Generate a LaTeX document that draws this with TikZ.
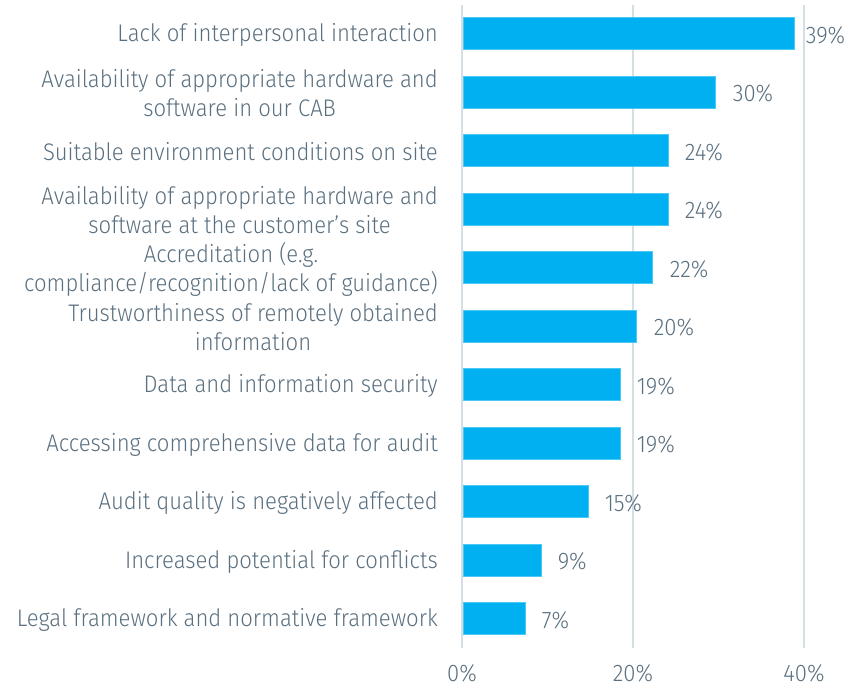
\documentclass[tikz,border=0pt]{standalone}
\usepackage{fontspec}
\setmainfont{Fira Sans}[UprightFont=* Light, FakeStretch=0.92]
\usetikzlibrary{positioning}
\definecolor{barblue}{HTML}{00B0F0}
\definecolor{baredge}{HTML}{4CC8F4}
\definecolor{labgray}{HTML}{5A7080}
\definecolor{gridgray}{HTML}{D5DEE3}

\begin{document}
\begin{tikzpicture}[x=1pt, y=-1pt,
  bar/.style={fill=barblue, draw=baredge, line width=.6pt, minimum height=32pt, inner sep=0pt, anchor=west},
  cat/.style={anchor=east, align=center, text=labgray, inner sep=0pt, yshift=-1.5pt, font=\fontsize{24}{29}\selectfont},
  val/.style={text=labgray, inner sep=0pt, yshift=-1.5pt, font=\fontsize{24}{29}\selectfont},
  grid/.style={draw=gridgray, line width=1.6pt}]

\useasboundingbox (0,0) rectangle (862,689);

% vertical grid lines and axis labels
\foreach \g/\p in {0/0,1/20,2/40}{
\coordinate (top\g) at (462+\g*171,5);
\coordinate (bot\g) at (462+\g*171,648);
\draw[grid] (top\g) -- (bot\g);
\node[val, below=15pt of bot\g] (ax\g) {\p\%};
}

% bars (length in px), category labels and values
\foreach \i/\v/\l/\d/\txt in {
 1/39/331/11/{Lack of interpersonal interaction},
 2/30/252/17/{Availability of appropriate hardware and\\software in our CAB},
 3/24/205/16/{Suitable environment conditions on site},
 4/24/205/16/{Availability of appropriate hardware and\\software at the customer's site},
 5/22/189/17/{Accreditation (e.g.\\compliance/recognition/lack of guidance)},
 6/20/173/17/{Trustworthiness of remotely obtained\\information},
 7/19/157/16/{Data and information security},
 8/19/157/16/{Accessing comprehensive data for audit},
 9/15/125/16/{Audit quality is negatively affected},
 10/9/78/16/{Increased potential for conflicts},
 11/7/62/16/{Legal framework and normative framework}}{
\node[bar, minimum width=\l pt] (bar\i) at (463,33.5+58.5*\i-58.5) {};
\node[val, right=\d pt of bar\i] (v\i) {\v\%};
\node[cat] (c\i) at (438,33.5+58.5*\i-58.5) {\txt};
}
\end{tikzpicture}
\end{document}
